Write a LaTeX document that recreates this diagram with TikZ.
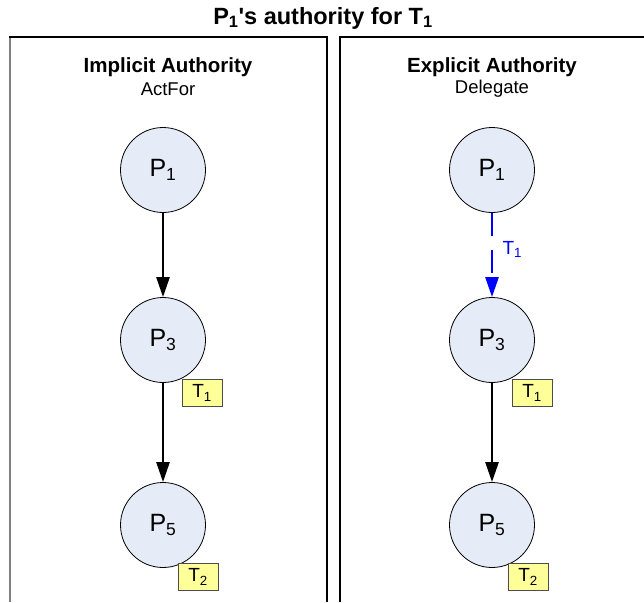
\documentclass[tikz,border=0pt]{standalone}
\usepackage{fontspec}
\setmainfont{Liberation Sans}
\newfontfamily\plainquote{Liberation Sans}
\usetikzlibrary{arrows.meta}
\definecolor{nodefill}{HTML}{E6ECF7}
\definecolor{tagfill}{HTML}{FFFF99}
\tikzset{
  principal/.style={circle, draw, line width=.8pt, fill=nodefill, minimum size=85pt, inner sep=0pt, font=\fontsize{25}{25}\selectfont},
  tagbox/.style={draw=black!70, line width=.8pt, fill=tagfill, minimum width=40pt, minimum height=27pt, inner sep=0pt, font=\fontsize{19}{19}\selectfont},
  link/.style={-{Triangle[length=20pt,width=13pt]}, line width=2.5pt},
  heading/.style={font=\fontsize{20.5}{20.5}\selectfont\bfseries},
  subheading/.style={font=\fontsize{18.5}{18.5}\selectfont},
}
\begin{document}
\begin{tikzpicture}[x=1pt, y=-1pt]
  \useasboundingbox (0,0) rectangle (644,602);

  \node[font=\fontsize{23.5}{23.5}\selectfont\bfseries] (title) at (323,18) {P\textsubscript{1}{\plainquote '}s authority for T\textsubscript{1}};

  %%left
  \draw[gray, line width=2pt](10,602) to (10,37);
  \draw[line width=1.2pt](9,37) to (327,37) to (327,602);

  \node[heading] (implicit) at (168,67) {Implicit Authority};
  \node[subheading] (actfor) at (168,89) {ActFor};

  \node[principal] (p1l) at (163,170) {P\textsubscript{1}};
  \node[principal] (p3l) at (163,340) {P\textsubscript{3}};
  \node[principal] (p5l) at (163,525) {P\textsubscript{5}};

  \draw[link](p1l) to (p3l);
  \draw[link](p3l) to (p5l);

  \node[tagbox] (t1l) at (202,393) {T\textsubscript{1}};
  \node[tagbox] (t2l) at (198,577) {T\textsubscript{2}};

  %%right
  \draw[line width=1.2pt](340,602) to (340,37) to (644,37);

  \node[heading] (explicit) at (492,67) {Explicit Authority};
  \node[subheading] (delegate) at (492,89) {Delegate};

  \node[principal] (p1r) at (492,170) {P\textsubscript{1}};
  \node[principal] (p3r) at (492,340) {P\textsubscript{3}};
  \node[principal] (p5r) at (492,525) {P\textsubscript{5}};

  \draw[link, blue, dash pattern=on 23pt off 14pt](p1r) to node[pos=.43, right=6pt, text=blue, font=\fontsize{19}{19}\selectfont]{T\textsubscript{1}} (p3r);
  \draw[link](p3r) to (p5r);

  \node[tagbox] (t1r) at (532,393) {T\textsubscript{1}};
  \node[tagbox] (t2r) at (528,577) {T\textsubscript{2}};

\end{tikzpicture}
\end{document}
